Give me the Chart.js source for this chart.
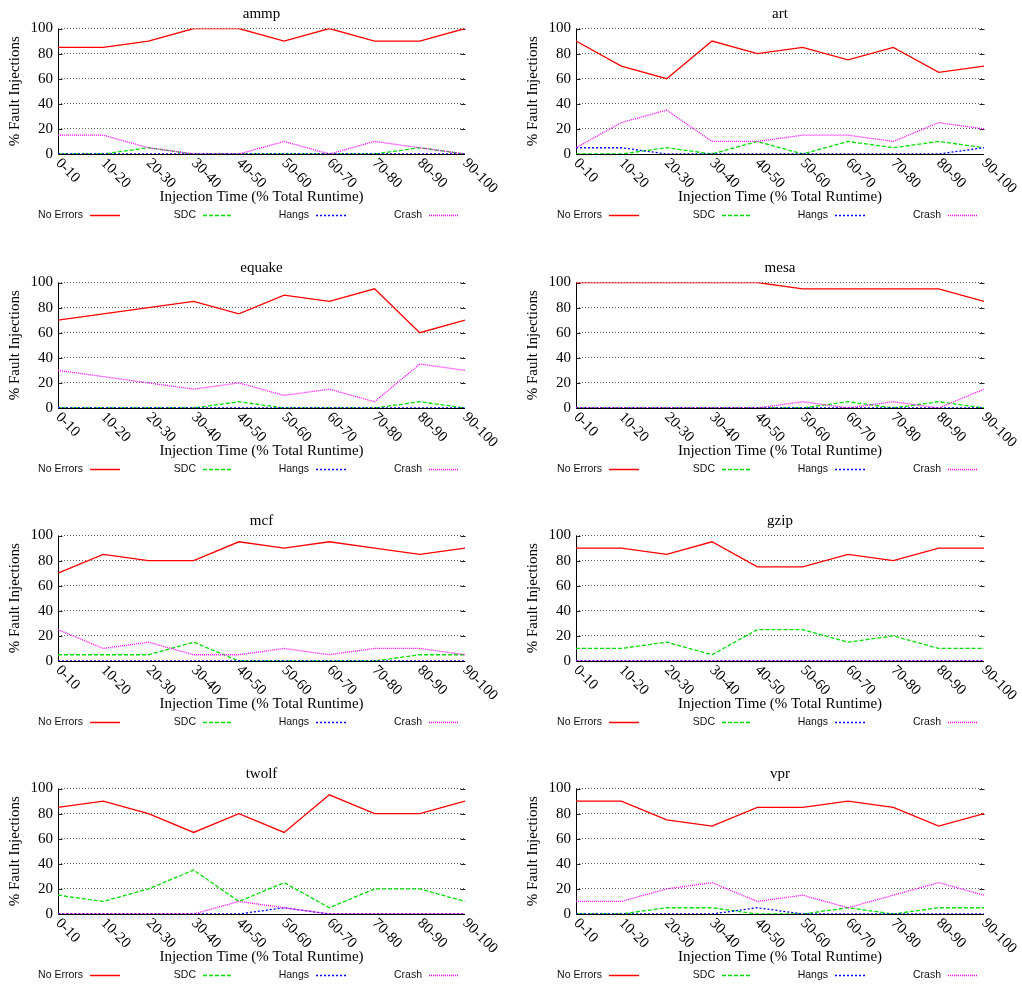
<!DOCTYPE html>
<html>
<head>
<meta charset="utf-8">
<title>Fault injection outcomes by injection time</title>
<script src="https://cdn.jsdelivr.net/npm/chart.js@4/dist/chart.umd.min.js"></script>
<style>
  html, body { margin: 0; padding: 0; background: #fff; }
  #wrap { position: relative; width: 1022px; height: 986px; overflow: hidden; }
  #wrap canvas { position: absolute; }
</style>
</head>
<body>
<div id="wrap"></div>
<script>
// Injection time windows (% of total runtime)
const categories = ['0-10', '10-20', '20-30', '30-40', '40-50', '50-60', '60-70', '70-80', '80-90', '90-100'];
const seriesNames = ['No Errors', 'SDC', 'Hangs', 'Crash'];

// Outcome percentages per benchmark
const ammpNoErrors = [85, 85, 90, 100, 100, 90, 100, 90, 90, 100];
const ammpSdc      = [0, 0, 5, 0, 0, 0, 0, 0, 5, 0];
const ammpHangs    = [0, 0, 0, 0, 0, 0, 0, 0, 0, 0];
const ammpCrash    = [15, 15, 5, 0, 0, 10, 0, 10, 5, 0];

const artNoErrors = [90, 70, 60, 90, 80, 85, 75, 85, 65, 70];
const artSdc      = [0, 0, 5, 0, 10, 0, 10, 5, 10, 5];
const artHangs    = [5, 5, 0, 0, 0, 0, 0, 0, 0, 5];
const artCrash    = [5, 25, 35, 10, 10, 15, 15, 10, 25, 20];

const equakeNoErrors = [70, 75, 80, 85, 75, 90, 85, 95, 60, 70];
const equakeSdc      = [0, 0, 0, 0, 5, 0, 0, 0, 5, 0];
const equakeHangs    = [0, 0, 0, 0, 0, 0, 0, 0, 0, 0];
const equakeCrash    = [30, 25, 20, 15, 20, 10, 15, 5, 35, 30];

const mesaNoErrors = [100, 100, 100, 100, 100, 95, 95, 95, 95, 85];
const mesaSdc      = [0, 0, 0, 0, 0, 0, 5, 0, 5, 0];
const mesaHangs    = [0, 0, 0, 0, 0, 0, 0, 0, 0, 0];
const mesaCrash    = [0, 0, 0, 0, 0, 5, 0, 5, 0, 15];

const mcfNoErrors = [70, 85, 80, 80, 95, 90, 95, 90, 85, 90];
const mcfSdc      = [5, 5, 5, 15, 0, 0, 0, 0, 5, 5];
const mcfHangs    = [0, 0, 0, 0, 0, 0, 0, 0, 0, 0];
const mcfCrash    = [25, 10, 15, 5, 5, 10, 5, 10, 10, 5];

const gzipNoErrors = [90, 90, 85, 95, 75, 75, 85, 80, 90, 90];
const gzipSdc      = [10, 10, 15, 5, 25, 25, 15, 20, 10, 10];
const gzipHangs    = [0, 0, 0, 0, 0, 0, 0, 0, 0, 0];
const gzipCrash    = [0, 0, 0, 0, 0, 0, 0, 0, 0, 0];

const twolfNoErrors = [85, 90, 80, 65, 80, 65, 95, 80, 80, 90];
const twolfSdc      = [15, 10, 20, 35, 10, 25, 5, 20, 20, 10];
const twolfHangs    = [0, 0, 0, 0, 0, 5, 0, 0, 0, 0];
const twolfCrash    = [0, 0, 0, 0, 10, 5, 0, 0, 0, 0];

const vprNoErrors = [90, 90, 75, 70, 85, 85, 90, 85, 70, 80];
const vprSdc      = [0, 0, 5, 5, 0, 0, 5, 0, 5, 5];
const vprHangs    = [0, 0, 0, 0, 5, 0, 0, 0, 0, 0];
const vprCrash    = [10, 10, 20, 25, 10, 15, 5, 15, 25, 15];

const panels = [
  { title: 'ammp',   series: [ammpNoErrors, ammpSdc, ammpHangs, ammpCrash] },
  { title: 'art',    series: [artNoErrors, artSdc, artHangs, artCrash] },
  { title: 'equake', series: [equakeNoErrors, equakeSdc, equakeHangs, equakeCrash] },
  { title: 'mesa',   series: [mesaNoErrors, mesaSdc, mesaHangs, mesaCrash] },
  { title: 'mcf',    series: [mcfNoErrors, mcfSdc, mcfHangs, mcfCrash] },
  { title: 'gzip',   series: [gzipNoErrors, gzipSdc, gzipHangs, gzipCrash] },
  { title: 'twolf',  series: [twolfNoErrors, twolfSdc, twolfHangs, twolfCrash] },
  { title: 'vpr',    series: [vprNoErrors, vprSdc, vprHangs, vprCrash] }
];

// Line styles per outcome
const seriesColors = ['#ff0000', '#00e000', '#0000ff', '#ff00ff'];
const seriesDash   = [[], [4, 2], [2, 2], [1, 1]];

// Grid geometry
const PANEL_W = 511, PANEL_H = 253;
const COL_X = [0, 511];
const ROW_Y = [0, 254, 507, 760];
const PLOT_LEFT = [58, 65];
const PLOT_RIGHT = [465, 473];
const PLOT_TOP = 28.5, PLOT_BOTTOM = 154;
const SERIF = '"Liberation Serif", "Times New Roman", serif';
const SANS = '"Liberation Sans", Arial, sans-serif';

const panelDecor = {
  id: 'panelDecor',
  beforeDatasetsDraw(chart) {
    const { ctx, chartArea: a, scales: { y } } = chart;
    const L = Math.round(a.left) + 0.5, R = Math.round(a.right) - 0.5, B = Math.round(a.bottom) + 0.5;
    ctx.save();
    ctx.strokeStyle = '#000';
    ctx.lineWidth = 1;
    ctx.setLineDash([]);
    ctx.beginPath();
    ctx.moveTo(L, Math.round(a.top)); ctx.lineTo(L, B);
    ctx.lineTo(Math.round(a.right), B);
    ctx.stroke();
    // mirrored tic marks on both vertical edges
    ctx.strokeStyle = '#222';
    ctx.beginPath();
    y.ticks.forEach(t => {
      if (t.value === 0) return;
      const py = Math.round(y.getPixelForValue(t.value)) + 0.5;
      ctx.moveTo(L, py); ctx.lineTo(L + 4, py);
      ctx.moveTo(R - 4, py); ctx.lineTo(R + 1, py);
    });
    ctx.stroke();
    ctx.restore();
  },
  afterDraw(chart, args, o) {
    const { ctx, chartArea: a, scales: { x } } = chart;
    const cx = (a.left + a.right) / 2;
    ctx.save();
    ctx.setLineDash([]);
    ctx.fillStyle = '#000';
    ctx.font = '15px ' + SERIF;
    ctx.textAlign = 'center';
    ctx.textBaseline = 'alphabetic';
    ctx.fillText(o.title, cx, a.top - 11);

    ctx.textBaseline = 'middle';
    ctx.fillText('Injection Time (% Total Runtime)', cx, 197);

    ctx.save();
    ctx.translate(o.yTitleX, (a.top + a.bottom) / 2);
    ctx.rotate(-Math.PI / 2);
    ctx.fillText('% Fault Injections', 0, 0);
    ctx.restore();

    // category labels slanted downward to the right
    ctx.textAlign = 'left';
    ctx.textBaseline = 'middle';
    x.ticks.forEach((t, i) => {
      const px = x.getPixelForTick(i);
      ctx.save();
      ctx.translate(px, a.bottom + 7);
      ctx.rotate(Math.PI / 4);
      ctx.fillText(x.getLabelForValue(t.value), 0, 0);
      ctx.restore();
    });

    // key: text followed by a line sample in the series style
    ctx.font = '10.5px ' + SANS;
    ctx.textAlign = 'right';
    ctx.textBaseline = 'middle';
    seriesNames.forEach((name, i) => {
      const textEnd = o.keyStart + 113 * i;
      ctx.fillStyle = '#111';
      ctx.fillText(name, textEnd, 215);
      ctx.save();
      ctx.strokeStyle = seriesColors[i];
      ctx.lineWidth = 1.5;
      ctx.setLineDash(seriesDash[i]);
      ctx.beginPath();
      ctx.moveTo(textEnd + 7, 215.5);
      ctx.lineTo(textEnd + 37, 215.5);
      ctx.stroke();
      ctx.restore();
    });
    ctx.restore();
  }
};

const wrap = document.getElementById('wrap');
panels.forEach((p, idx) => {
  const col = idx % 2, row = Math.floor(idx / 2);
  const canvas = document.createElement('canvas');
  canvas.width = PANEL_W; canvas.height = PANEL_H;
  canvas.style.left = COL_X[col] + 'px';
  canvas.style.top = ROW_Y[row] + 'px';
  canvas.style.width = PANEL_W + 'px';
  canvas.style.height = PANEL_H + 'px';
  wrap.appendChild(canvas);

  new Chart(canvas, {
    type: 'line',
    data: {
      labels: categories,
      datasets: seriesNames.map((name, i) => ({
        label: name,
        data: p.series[i],
        borderColor: seriesColors[i],
        borderDash: seriesDash[i],
        borderWidth: 1.3,
        pointRadius: 0,
        tension: 0,
        fill: false,
        order: seriesNames.length - 1 - i
      }))
    },
    options: {
      responsive: false,
      animation: false,
      devicePixelRatio: 1,
      events: [],
      layout: { padding: { top: PLOT_TOP, right: PANEL_W - PLOT_RIGHT[col], bottom: 0, left: 0 } },
      plugins: {
        legend: { display: false },
        tooltip: { enabled: false },
        title: { display: false },
        panelDecor: { title: p.title, yTitleX: col === 0 ? 15 : 22.5, keyStart: col === 0 ? 83 : 91 }
      },
      scales: {
        x: {
          type: 'category',
          offset: false,
          grid: { display: false },
          border: { display: false },
          ticks: { display: false },
          afterFit(s) { s.height = PANEL_H - PLOT_BOTTOM; }
        },
        y: {
          min: 0,
          max: 100,
          ticks: { stepSize: 20, color: '#000', padding: 5, font: { family: SERIF, size: 15 } },
          grid: { color: '#666', lineWidth: 1, drawTicks: false },
          border: { display: false, dash: [1, 2] },
          afterFit(s) { s.width = PLOT_LEFT[col]; }
        }
      }
    },
    plugins: [panelDecor]
  });
});
</script>
</body>
</html>
